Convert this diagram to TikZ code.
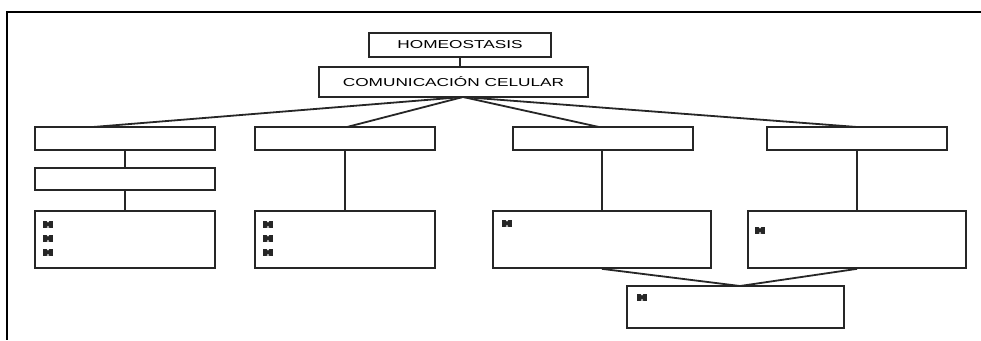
\documentclass[tikz,border=0pt]{standalone}
\usepackage{fontspec}
\newfontfamily\wfont[FakeStretch=1.5]{Liberation Sans}
\begin{document}
\begin{tikzpicture}[x=1pt,y=-1pt,
  box/.style={draw=black!85,line width=1.7pt,inner sep=0pt,fill=white},
  conn/.style={draw=black!85,line width=1.8pt},
  frameline/.style={draw=black,line width=2.2pt},
  lbl/.style={font=\wfont\fontsize{11.5}{12}\selectfont},
  bul/.pic={\fill[black!85] (0,0) rectangle (10,6.5);
            \fill[white] (3.8,0) -- (6.2,0) -- (5,1.6) -- cycle;
            \fill[white] (3.8,6.5) -- (6.2,6.5) -- (5,4.9) -- cycle;}]
\useasboundingbox (0,0) rectangle (981,340);
\fill[white] (0,0) rectangle (981,340);
% frame
\coordinate (ftr) at (981,12);
\coordinate (ftl) at (7,12);
\coordinate (fbl) at (7,340);
\draw[frameline] (ftr) -- (ftl) -- (fbl);
% nodes
\node[box,lbl,minimum width=182pt,minimum height=24pt] (home) at (460,45) {HOMEOSTASIS};
\node[box,lbl,minimum width=269pt,minimum height=30pt] (com) at (453.5,82) {COMUNICACIÓN CELULAR};
\node[box,minimum width=180pt,minimum height=23pt] (a1) at (125,138.5) {};
\node[box,minimum width=180pt,minimum height=23pt] (a2) at (345,138.5) {};
\node[box,minimum width=180pt,minimum height=23pt] (a3) at (603,138.5) {};
\node[box,minimum width=180pt,minimum height=23pt] (a4) at (857,138.5) {};
\node[box,minimum width=180pt,minimum height=22pt] (a1b) at (125,179) {};
\node[box,minimum width=180pt,minimum height=57pt] (b1) at (125,239.5) {};
\node[box,minimum width=180pt,minimum height=57pt] (b2) at (345,239.5) {};
\node[box,minimum width=218pt,minimum height=57pt] (b3) at (602,239.5) {};
\node[box,minimum width=218pt,minimum height=57pt] (b4) at (857,239.5) {};
\node[box,minimum width=217pt,minimum height=42pt] (c) at (735.5,307) {};
% connectors
\coordinate (hub) at (463,97);
\coordinate (e1) at (93,127);
\coordinate (e2) at (347,127);
\coordinate (e3) at (599,127);
\coordinate (e4) at (857,127);
\coordinate (cv) at (740,286);
\draw[conn] (home.south) -- (home.south |- com.north);
\draw[conn] (hub) -- (e1);
\draw[conn] (hub) -- (e2);
\draw[conn] (hub) -- (e3);
\draw[conn] (hub) -- (e4);
\draw[conn] (a1.south) -- (a1.south |- a1b.north);
\draw[conn] (a1b.south) -- (a1b.south |- b1.north);
\draw[conn] (a2.south) -- (a2.south |- b2.north);
\draw[conn] (b3.north |- a3.south) -- (b3.north);
\draw[conn] (a4.south) -- (a4.south |- b4.north);
\draw[conn] (b3.south) -- (cv);
\draw[conn] (b4.south) -- (cv);
% bullets
\pic at (43,221) {bul};
\pic at (43,235) {bul};
\pic at (43,249) {bul};
\pic at (263,221) {bul};
\pic at (263,235) {bul};
\pic at (263,249) {bul};
\pic at (502,220) {bul};
\pic at (755,227) {bul};
\pic at (637,294) {bul};
\end{tikzpicture}
\end{document}
